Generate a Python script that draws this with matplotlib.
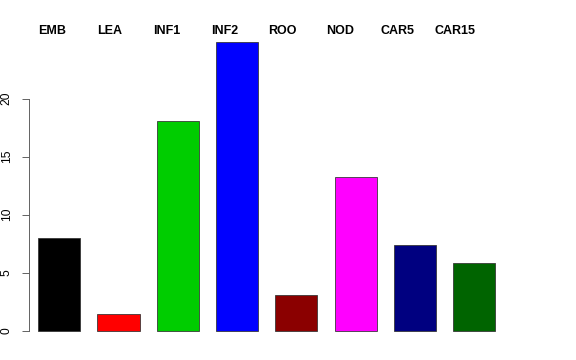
import matplotlib
matplotlib.use("Agg")
import matplotlib.pyplot as plt
import numpy as np

# Données
categories = ["EMB", "LEA", "INF1", "INF2", "ROO", "NOD", "CAR5", "CAR15"]
valeurs = [7.96, 1.41, 18.05, 24.86, 3.08, 13.22, 7.41, 5.84]
couleurs = ["#000000", "#FF0000", "#00CD00", "#0000FF",
            "#8B0000", "#FF00FF", "#000080", "#006400"]

plt.rcParams['font.family'] = ['Liberation Sans', 'DejaVu Sans']

fig = plt.figure(figsize=(8, 5), dpi=72)
W, H = 576, 360
# axe placé en pixels (gauche, bas, largeur, hauteur)
ax = fig.add_axes([29 / W, (H - 330.7) / H, 499 / W, (330.7 - 32.6) / H])

x = np.arange(len(categories))
ax.bar(x, valeurs, width=0.71, color=couleurs, edgecolor="#333333",
       linewidth=0.8, clip_on=False)

ax.set_xlim(-0.509, 7.906)
ax.set_ylim(0, 25.7)

for s in ["top", "right", "bottom"]:
    ax.spines[s].set_visible(False)
ax.spines["left"].set_bounds(0, 20)
ax.spines["left"].set_color("#555555")
ax.spines["left"].set_linewidth(0.9)

ax.set_xticks([])
ax.set_yticks([0, 5, 10, 15, 20])
ax.tick_params(axis="y", length=7.3, width=0.9, color="#555555",
               pad=9, labelsize=12)
for lab in ax.get_yticklabels():
    lab.set_rotation(90)
    lab.set_va("center")

# Noms des catégories en haut, en gras
for i, nom in enumerate(categories):
    fig.text((52 + 57.6 * i) / W, 1 - 30.5 / H, nom, ha="center", va="center",
             fontsize=12.5, fontweight="bold")

fig.savefig("out.png", dpi=72)
